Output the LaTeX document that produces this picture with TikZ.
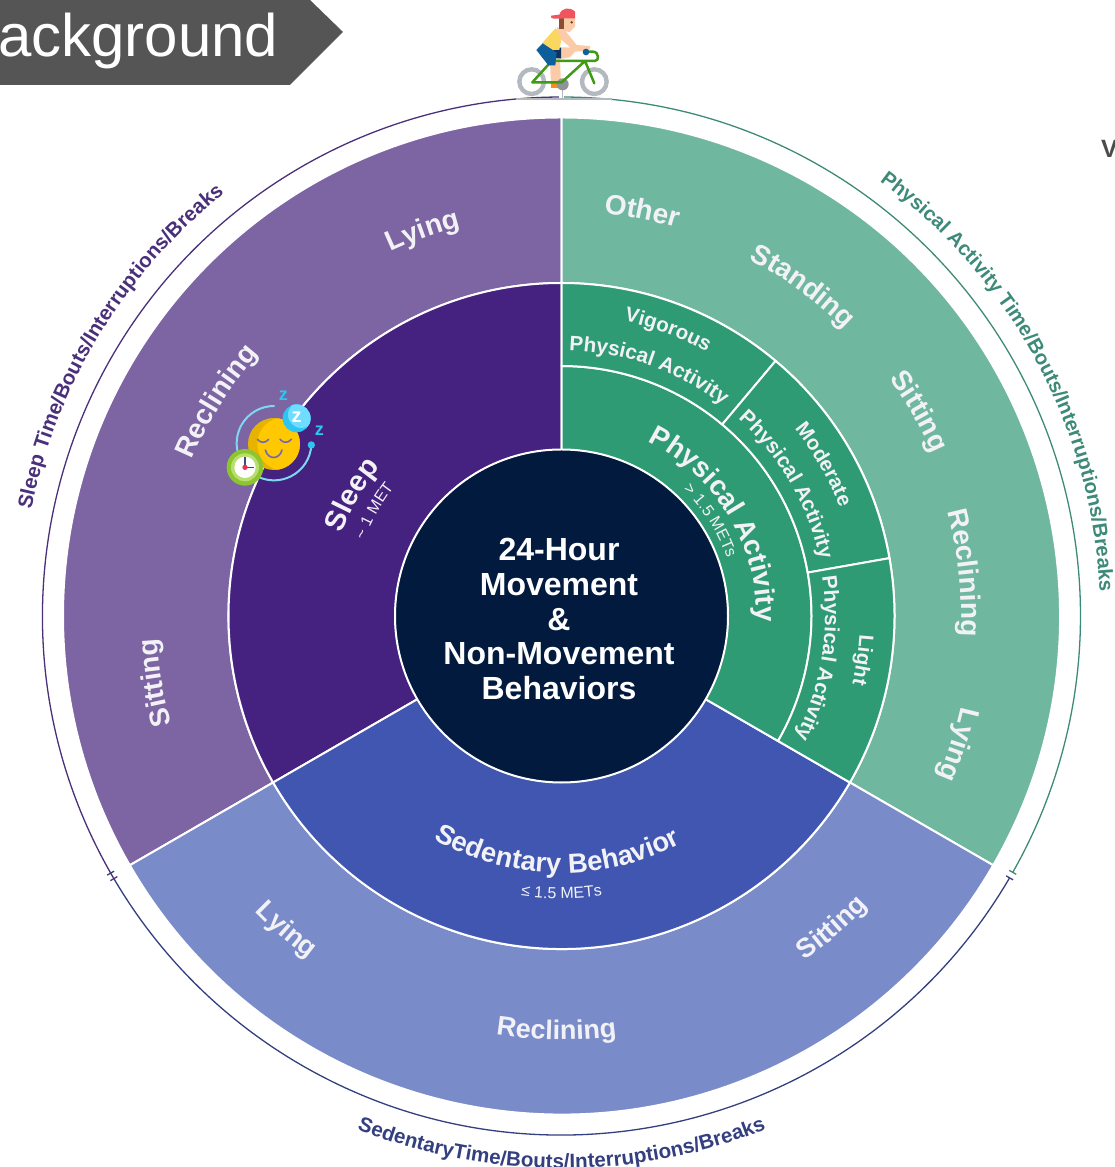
\documentclass[tikz,border=0pt]{standalone}
\usepackage{fontspec}
\setmainfont{Liberation Sans}
\usetikzlibrary{calc,decorations.text}
\definecolor{cPout}{HTML}{7D64A3}
\definecolor{cPin}{HTML}{452180}
\definecolor{cBout}{HTML}{7A8BCA}
\definecolor{cBin}{HTML}{4056B1}
\definecolor{cGout}{HTML}{70B7A0}
\definecolor{cGin}{HTML}{2F9B75}
\definecolor{cCore}{HTML}{011A3E}
\definecolor{cLab}{HTML}{F2F2F6}
\definecolor{cLineG}{HTML}{3E8A78}
\definecolor{cLineB}{HTML}{333F7E}
\definecolor{cLineP}{HTML}{4A2F7A}
\definecolor{cTag}{HTML}{555555}
\definecolor{wheelc}{HTML}{B4B8BF}
\definecolor{skinc}{HTML}{FBCBA8}
\definecolor{footc}{HTML}{F59119}
\definecolor{framec}{HTML}{3F9A14}
\definecolor{navyc}{HTML}{0C3264}
\definecolor{shirtc}{HTML}{FAD75F}
\definecolor{shortc}{HTML}{0C5F9B}
\definecolor{hairc}{HTML}{875032}
\definecolor{capc}{HTML}{EE555F}
\definecolor{eyec}{HTML}{643C28}
\definecolor{gripc}{HTML}{1060A0}
\definecolor{orbitc}{HTML}{7FD8F0}
\definecolor{dotc}{HTML}{2EC5F0}
\definecolor{lightc}{HTML}{6FDDFF}
\definecolor{faced}{HTML}{E6B400}
\definecolor{facel}{HTML}{FFC800}
\definecolor{smilec}{HTML}{7466B4}
\definecolor{clockd}{HTML}{8CC530}
\definecolor{clockl}{HTML}{B9DE70}
\definecolor{handc}{HTML}{3A4A80}
\definecolor{centc}{HTML}{F0304A}
% sector: a1 r1 a2 r2 colour
\newcommand\sector[5]{\fill[#5,draw=white,line width=2pt,line join=round]
  ($(c)+(#1:#2)$) -- ($(c)+(#1:#4)$)
  arc[start angle=#1,end angle=#3,radius=#4] -- ($(c)+(#3:#2)$)
  arc[start angle=#3,end angle=#1,radius=#2] -- cycle;}
% clockwise text: angle, centre radius, size, colour, weight, text
\newcommand\cwtext[6]{\path[decorate,decoration={text along path,text align=center,
   text={|\fontsize{#3}{#3}#5\selectfont\color{#4}|#6}}]
   ($(c)+(#1+85:#2-0.36*#3)$) arc[start angle=#1+85,end angle=#1-85,radius=#2-0.36*#3];}
% counter-clockwise text (lower half)
\newcommand\ccwtext[6]{\path[decorate,decoration={text along path,text align=center,
   text={|\fontsize{#3}{#3}#5\selectfont\color{#4}|#6}}]
   ($(c)+(#1-60:#2+0.36*#3)$) arc[start angle=#1-60,end angle=#1+60,radius=#2+0.36*#3];}
\tikzset{outerline/.style={line width=1.3pt},
  tickbar/.style={line width=1.3pt},
  iconline/.style={line cap=round,line join=round}}
\begin{document}
\begin{tikzpicture}[x=1pt,y=1pt]
\useasboundingbox (0,0) rectangle (1115,1167);
\coordinate (c) at (561.5,551);
% header tag
\fill[cTag] (0,1167) -- (310,1167) -- (343,1135) -- (290,1082) -- (0,1082) -- cycle;
\node[anchor=base west,inner sep=0,text=white,font=\fontsize{60}{60}\selectfont] (tag) at (-2,1110) {ackground};
\node[anchor=base west,inner sep=0,text=black!70,font=\bfseries\fontsize{25}{25}\selectfont] (cut) at (1101,1009) {V};
% outer segments
\sector{90}{333}{210}{498.5}{cPout}
\sector{-30}{333}{90}{498.5}{cGout}
\sector{210}{333}{330}{498.5}{cBout}
% middle segments
\sector{90}{166}{210}{333}{cPin}
\sector{210}{166}{330}{333}{cBin}
\sector{-30}{166}{90}{250}{cGin}
\sector{50}{250}{90}{333}{cGin}
\sector{10}{250}{50}{333}{cGin}
\sector{-30}{250}{10}{333}{cGin}
% thin outer ring
\draw[outerline,cLineG] ($(c)+(89.7:519)$) arc[start angle=89.7,end angle=-29.6,radius=519];
\draw[outerline,cLineB] ($(c)+(-30.3:519)$) arc[start angle=-30.3,end angle=-149.6,radius=519];
\draw[outerline,cLineP] ($(c)+(210.3:519)$) arc[start angle=210.3,end angle=90.3,radius=519];
\draw[tickbar,cLineG] ($(c)+(-29.6:515)$) -- ($(c)+(-29.6:523)$);
\draw[tickbar,cLineB] ($(c)+(-30.3:515)$) -- ($(c)+(-30.3:523)$);
\draw[tickbar,cLineB] ($(c)+(209.7:515)$) -- ($(c)+(209.7:523)$);
\draw[tickbar,cLineP] ($(c)+(210.4:515)$) -- ($(c)+(210.4:523)$);
% core
\node[circle,fill=cCore,draw=white,line width=2pt,minimum size=333pt,inner sep=0] (core) at (c) {};
\node[inner sep=0,text=white,align=center,
  font=\bfseries\fontsize{32}{34.6}\selectfont] (coretext) at (559,548)
  {24-Hour\\Movement\\\&\\Non-Movement\\Behaviors};
% outer labels
\def\bw{\bfseries}
\cwtext{109.8}{412}{28}{cLab}{\bw}{Lying}
\cwtext{148.1}{411}{28}{cLab}{\bw}{Reclining}
\cwtext{189.3}{415}{28}{cLab}{\bw}{Sitting}
\cwtext{78.7}{415}{28}{cLab}{\bw}{Other}
\cwtext{53.8}{413}{28}{cLab}{\bw}{Standing}
\cwtext{29.8}{415}{28}{cLab}{\bw}{Sitting}
\cwtext{6.1}{410}{28}{cLab}{\bw}{Reclining}
\cwtext{-18}{420}{28}{cLab}{\bw}{Lying}
\ccwtext{-49.1}{412}{27}{cLab}{\bw}{Sitting}
\ccwtext{269.3}{414}{27}{cLab}{\bw}{Reclining}
\ccwtext{228.8}{416}{27}{cLab}{\bw}{Lying}
% middle labels
\cwtext{69.6}{309}{20.5}{cLab}{\bw}{Vigorous}
\cwtext{70.5}{273}{20.8}{cLab}{\bw}{Physical Activity}
\cwtext{30}{306}{20.5}{cLab}{\bw}{Moderate}
\cwtext{30.2}{272}{20.8}{cLab}{\bw}{Physical Activity}
\cwtext{-8.3}{306}{20.5}{cLab}{\bw}{Light}
\cwtext{-9.4}{271}{20.8}{cLab}{\bw}{Physical Activity}
\cwtext{31}{205}{28}{cLab}{\bw}{Physical Activity}
\cwtext{32.6}{181}{16}{cLab}{}{> 1.5 METs}
\cwtext{150}{245}{29}{cLab}{\bw}{Sleep}
\cwtext{150.7}{217}{16}{cLab}{}{{\textasciitilde} 1 MET}
\ccwtext{269}{247}{27.5}{cLab}{\bw}{Sedentary Behavior}
\ccwtext{270}{277}{16}{cLab}{}{≤ 1.5 METs}
% ring labels
\cwtext{28.2}{546}{20.3}{cLineG}{\bw}{Physical Activity Time/Bouts/Interruptions/Breaks}
\cwtext{148.6}{548}{20.5}{cLineP}{\bw}{Sleep Time/Bouts/Interruptions/Breaks}
\ccwtext{270}{545}{20.6}{cLineB}{\bw}{SedentaryTime/Bouts/Interruptions/Breaks}
% sleep icon (coordinates of a 3x crop)
\begin{scope}[xshift=210pt,yshift=787pt,x=0.33333pt,y=-0.33333pt]
 \draw[line width=2pt,orbitc,iconline] (192,78) arc[start angle=270,end angle=160,radius=112];
 \draw[line width=2pt,orbitc,iconline] (304,195) arc[start angle=3,end angle=115,radius=112];
 \fill[dotc] (304,195) circle[radius=11];
 \fill[faced] (192,192) circle[radius=78];
 \begin{scope}
  \clip (192,192) circle[radius=78];
  \fill[facel] (222,192) circle[radius=80];
 \end{scope}
 \draw[line width=1.6pt,smilec,iconline] (142,178) .. controls (152,190) and (166,190) .. (176,178);
 \draw[line width=1.6pt,smilec,iconline] (210,178) .. controls (220,190) and (234,190) .. (244,178);
 \draw[line width=1.6pt,smilec,iconline] (166,210) .. controls (174,240) and (208,240) .. (216,210);
 \fill[dotc] (260,115) circle[radius=42];
 \begin{scope}
  \clip (260,115) circle[radius=42];
  \fill[lightc] (274,104) circle[radius=40];
 \end{scope}
 \node[text=white,font=\bfseries\fontsize{20}{20}\selectfont,inner sep=0] (zbig) at (260,113) {z};
 \node[text=dotc,font=\bfseries\fontsize{18}{18}\selectfont,inner sep=0] (zone) at (220,48) {z};
 \node[text=dotc,font=\bfseries\fontsize{18}{18}\selectfont,inner sep=0] (ztwo) at (328,151) {z};
 \fill[clockd] (105,262) circle[radius=55];
 \fill[clockl] (105,262) circle[radius=42];
 \fill[white] (105,262) circle[radius=32];
 \draw[line width=1.3pt,handc] (105,262) -- (105,232);
 \draw[line width=1.3pt,handc] (105,262) -- (133,262);
 \fill[centc] (105,262) circle[radius=8];
\end{scope}
% cyclist (coordinates of a 3x crop)
\begin{scope}[xshift=480pt,yshift=1167pt,x=0.33333pt,y=-0.33333pt]
 \draw[wheelc,line width=2.6pt] (108,297) -- (397,297);
 \draw[wheelc,line width=1.5pt] (248,260) -- (248,297);
 \draw[wheelc,line width=4.4pt] (155,245) circle[radius=37];
 \draw[wheelc,line width=4.4pt] (343,245) circle[radius=37];
 \fill[skinc] (210,185) -- (240,175) -- (243,255) -- (213,255) -- cycle;
 \fill[skinc] (240,142) -- (280,142) -- (285,155) -- (270,172) -- (235,178) -- cycle;
 \fill[footc] (213,250) -- (248,250) -- (248,263) -- (213,263) -- cycle;
 \fill[wheelc!80!black] (248,253) circle[radius=18];
 \draw[line width=2.5pt,framec,iconline]
   (215,183) -- (157,247) -- (245,247) -- (315,183) (215,183) -- (345,183)
   .. controls (358,183) and (358,155) .. (338,155) -- (322,155) (315,183) -- (343,250);
 \fill[navyc] (212,145) -- (243,143) -- (243,175) -- (218,175) -- cycle;
 \fill[shirtc] (186,130) -- (226,85) -- (248,100) -- (238,150) -- (215,150) -- cycle;
 \fill[shortc] (169,150) -- (188,130) -- (230,158) -- (226,196) -- (205,196) -- cycle;
 \fill[skinc] (230,82) -- (250,85) -- (290,135) -- (330,138) -- (328,152) -- (285,155) -- (240,115) -- cycle;
 \fill[skinc] (238,50) -- (285,50) -- (285,80) -- (268,97) -- (240,88) -- cycle;
 \fill[hairc] (238,52) -- (252,52) -- (252,86) -- (238,86) -- cycle;
 \fill[capc] (213,47) -- (238,44) .. controls (245,22) and (270,20) .. (285,35) -- (285,55) -- (220,56) .. controls (214,55) and (212,52) .. (213,47) -- cycle;
 \fill[eyec] (275,67) circle[radius=4];
 \fill[gripc] (318,156) circle[radius=10];
\end{scope}
\end{tikzpicture}
\end{document}
